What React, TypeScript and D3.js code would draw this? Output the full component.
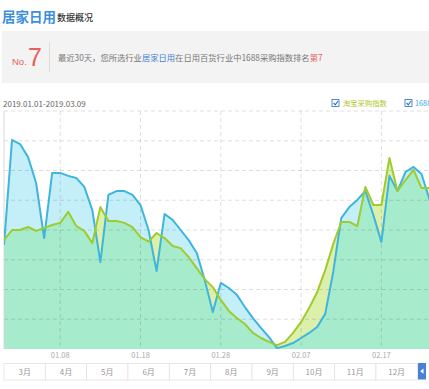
import React from "react";
import * as d3 from "d3";

const dates = [
  "2019-01-01","2019-01-02","2019-01-03","2019-01-04","2019-01-05","2019-01-06","2019-01-07","2019-01-08","2019-01-09","2019-01-10",
  "2019-01-11","2019-01-12","2019-01-13","2019-01-14","2019-01-15","2019-01-16","2019-01-17","2019-01-18","2019-01-19","2019-01-20",
  "2019-01-21","2019-01-22","2019-01-23","2019-01-24","2019-01-25","2019-01-26","2019-01-27","2019-01-28","2019-01-29","2019-01-30",
  "2019-01-31","2019-02-01","2019-02-02","2019-02-03","2019-02-04","2019-02-05","2019-02-06","2019-02-07","2019-02-08","2019-02-09",
  "2019-02-10","2019-02-11","2019-02-12","2019-02-13","2019-02-14","2019-02-15","2019-02-16","2019-02-17","2019-02-18","2019-02-19",
  "2019-02-20","2019-02-21","2019-02-22","2019-02-23",
];

// 1688采购指数 (blue)
const index1688 = [
  3.50, 7.03, 6.89, 6.45, 5.58, 3.73, 5.92, 5.92, 5.82, 5.75,
  5.45, 4.67, 2.92, 5.18, 5.31, 5.31, 5.18, 4.84, 4.00, 2.62,
  4.54, 4.34, 4.00, 3.66, 3.23, 2.32, 1.24, 2.22, 2.05, 1.82,
  1.41, 1.04, 0.71, 0.40, 0.03, 0.10, 0.20, 0.37, 0.54, 0.74,
  1.18, 2.59, 4.40, 4.77, 5.01, 5.31, 4.50, 3.60, 5.82, 5.31,
  5.95, 6.12, 5.88, 5.01,
];

// 淘宝采购指数 (green)
const indexTaobao = [
  3.66, 4.00, 4.00, 4.10, 3.97, 4.07, 4.17, 4.24, 4.61, 4.13,
  3.97, 3.56, 4.77, 4.30, 4.30, 4.24, 4.10, 3.76, 3.61, 3.90,
  3.73, 3.46, 3.39, 3.09, 2.72, 2.35, 2.08, 1.65, 1.28, 1.04,
  0.84, 0.54, 0.37, 0.24, 0.13, 0.24, 0.54, 0.91, 1.38, 1.91,
  2.65, 3.53, 4.27, 4.27, 4.13, 5.45, 4.84, 4.84, 6.42, 5.31,
  5.68, 6.02, 5.41, 5.41,
];

const xTickDates = ["2019-01-08", "2019-01-18", "2019-01-28", "2019-02-07", "2019-02-17"];
const xTickLabels = ["01.08", "01.18", "01.28", "02.07", "02.17"];
const yGrid = [1, 2, 3, 4, 5, 6, 7, 8];
const months = ["3月", "4月", "5月", "6月", "7月", "8月", "9月", "10月", "11月", "12月"];
const rangeStart = "2019-01-01";
const rangeEnd = "2019-03-09";

const parse = d3.timeParse("%Y-%m-%d");
const FONT = "'Noto Sans CJK SC', 'Noto Sans', sans-serif";

export default function App() {
  const W = 429, H = 389;
  const left = 4, top = 111, bottom = 349;
  const x = d3.scaleTime()
    .domain([parse(rangeStart)!, parse(rangeEnd)!])
    .range([left, 542]);
  const y = d3.scaleLinear().domain([0, 8]).range([bottom, top]);

  const rows = dates.map((d, i) => ({ date: parse(d)!, b: index1688[i], g: indexTaobao[i] }));

  const areaB = d3.area<any>().x(d => x(d.date)).y0(bottom).y1(d => y(d.b)).curve(d3.curveLinear);
  const areaG = d3.area<any>().x(d => x(d.date)).y0(bottom).y1(d => y(d.g)).curve(d3.curveLinear);
  const lineB = d3.line<any>().x(d => x(d.date)).y(d => y(d.b)).curve(d3.curveLinear);
  const lineG = d3.line<any>().x(d => x(d.date)).y(d => y(d.g)).curve(d3.curveLinear);

  const bandX = d3.scaleBand<string>().domain(months).range([4, 417.3]).padding(0);

  return (
    <svg width={W} height={H} style={{ position: "absolute", left: 0, top: 0, background: "#fff" }} fontFamily={FONT}>
      <defs>
        <clipPath id="plotClip">
          <rect x={left} y={0} width={W - left} height={bottom + 1} />
        </clipPath>
        <clipPath id="blueClip">
          <path d={areaB(rows) || ""} />
        </clipPath>
      </defs>

      {/* title */}
      <text x={2} y={22} fontSize={13.5} fill="#3d8fdc" fontWeight={700}>居家日用</text>
      <text x={57} y={21} fontSize={9} fill="#333" fontWeight={500}>数据概况</text>

      {/* info box */}
      <rect x={2} y={31} width={W - 2} height={52} fill="#f3f3f3" />
      <text x={12} y={65} fontSize={9.5} fill="#e95f5a" fontFamily="Arial, 'Liberation Sans', sans-serif">No.</text>
      <text x={28} y={66} fontSize={25} fill="#e95f5a" fontFamily="Arial, 'Liberation Sans', sans-serif">7</text>
      <line x1={49.5} x2={49.5} y1={42} y2={72} stroke="#dcdcdc" />
      <text x={58} y={60.5} fontSize={8.3} fill="#777">
        <tspan>最近30天，您所选行业</tspan>
        <tspan fill="#3d7fd6">居家日用</tspan>
        <tspan>在日用百货行业中1688采购指数排名</tspan>
        <tspan fill="#e95f5a">第7</tspan>
      </text>

      {/* date range */}
      <text x={3} y={107} fontSize={8} fill="#666">2019.01.01-2019.03.09</text>

      {/* legend */}
      <g>
        <rect x={332} y={99.5} width={7} height={7} fill="#fff" stroke="#3b7fd0" strokeWidth={0.9} />
        <path d="M333.6,103 L335.3,104.8 L338,101" fill="none" stroke="#2f6fc4" strokeWidth={1.1} />
        <text x={343} y={106} fontSize={7.3} fill="#b3c72b">淘宝采购指数</text>
        <rect x={405} y={99.5} width={7} height={7} fill="#fff" stroke="#3b7fd0" strokeWidth={0.9} />
        <path d="M406.6,103 L408.3,104.8 L411,101" fill="none" stroke="#2f6fc4" strokeWidth={1.1} />
        <text x={415} y={106} fontSize={7.3} fill="#3aa8e0">1688采购指数</text>
      </g>

      {/* areas */}
      <g clipPath="url(#plotClip)">
        <path d={areaB(rows) || ""} fill="#c4eff8" />
        <path d={areaG(rows) || ""} fill="#dcf0ab" />
        <path d={areaG(rows) || ""} fill="#a6ebcc" clipPath="url(#blueClip)" />
      </g>

      {/* grid */}
      {yGrid.map(v => (
        <line key={v} x1={left} x2={W} y1={y(v)} y2={y(v)} stroke="rgba(0,0,0,0.13)" strokeDasharray="4,3" />
      ))}
      {xTickDates.map(d => (
        <line key={d} x1={x(parse(d)!)} x2={x(parse(d)!)} y1={top} y2={bottom} stroke="rgba(0,0,0,0.13)" strokeDasharray="4,3" />
      ))}
      <line x1={left} x2={left} y1={top} y2={bottom} stroke="#d8d8d8" />

      {/* lines */}
      <g clipPath="url(#plotClip)">
        <path d={lineB(rows) || ""} fill="none" stroke="#3fb5dd" strokeWidth={2} strokeLinejoin="round" />
        <path d={lineG(rows) || ""} fill="none" stroke="#9fcb2c" strokeWidth={2} strokeLinejoin="round" />
      </g>

      {/* x labels */}
      {xTickDates.map((d, i) => (
        <text key={d} x={x(parse(d)!)} y={358} fontSize={7.5} fill="#aaa" textAnchor="middle">{xTickLabels[i]}</text>
      ))}

      {/* month bar */}
      {months.map(m => (
        <g key={m}>
          <rect x={bandX(m)!} y={363.5} width={bandX.bandwidth()} height={16.5} fill="#fff" stroke="#e2e2e2" strokeWidth={0.8} />
          <text x={bandX(m)! + bandX.bandwidth() / 2} y={375} fontSize={8} fill="#999" textAnchor="middle">{m}</text>
        </g>
      ))}
      <rect x={418} y={363} width={8} height={16.5} fill="#4a80d6" />
      <path d="M420.2,371.2 L423.5,368.6 L423.5,373.8 Z" fill="#fff" />
    </svg>
  );
}
